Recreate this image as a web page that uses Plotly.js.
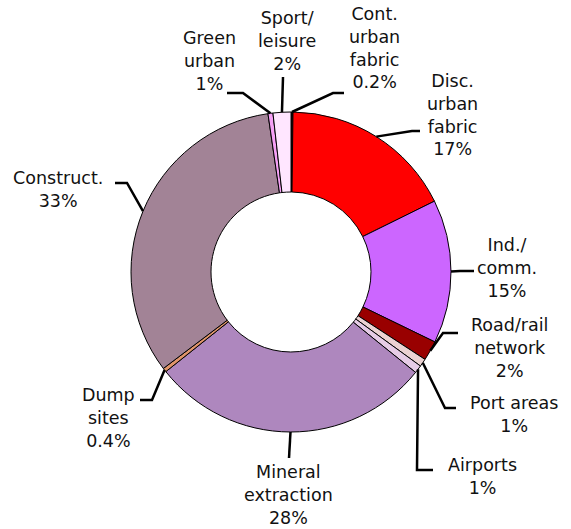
<!DOCTYPE html>
<html>
<head>
<meta charset="utf-8">
<script src="https://cdn.plot.ly/plotly-3.0.1.min.js"></script>
<style>html,body{margin:0;padding:0;background:#fff;}#chart{width:571px;height:529px;}</style>
</head>
<body>
<div id="chart"></div>
<script>
// ---- data ----
var categories = ["Cont. urban fabric","Disc. urban fabric","Ind./comm.","Road/rail network","Port areas","Airports","Mineral extraction","Dump sites","Construct.","Green urban","Sport/leisure"];
var shares = [0.2, 17.5, 14.5, 2, 0.8, 0.8, 28.5, 0.4, 33, 0.5, 1.8];
var labelTexts = ["Cont.<br>urban<br>fabric<br>0.2%","Disc.<br>urban<br>fabric<br>17%","Ind./<br>comm.<br>15%","Road/rail<br>network<br>2%","Port areas<br>1%","Airports<br>1%","Mineral<br>extraction<br>28%","Dump<br>sites<br>0.4%","Construct.<br>33%","Green<br>urban<br>1%","Sport/<br>leisure<br>2%"];
var colors = ["#200000","#FF0000","#CC66FF","#990000","#EBD2D2","#E6CCE6","#AE87BE","#E0956A","#A28396","#F5A0F5","#FFE6FF"];

// ---- layout config (pixels) ----
var W = 571, H = 529, CX = 291, CY = 272, R = 160;
// label centres and leader elbows / ends
var labelPos = [[374,48],[452,115],[507,268],[509,348],[514,414],[482,476],[288,495],[108,418],[58,189],[209,61],[287,41]];
var elbows = [[333,93],[412,131],[460,271],[443,333],[445,408],[417,470],[289,458],[152,400],[127,183],[243,93],[283,77]];
var ends   = [[344,93],[420,131],[474,271],[458,333],[456,408],[433,470],[289,458],[140,400],[115,183],[227,93],[283,77]];

function px(x){return x/W;}
function py(y){return 1 - y/H;}

var total = shares.reduce(function(a,b){return a+b;},0);
var cum = 0;
var shapes = [], annotations = [];
for (var i=0;i<shares.length;i++){
  var mid = (cum + shares[i]/2)/total*2*Math.PI;
  cum += shares[i];
  var ax = CX + R*Math.sin(mid), ay = CY - R*Math.cos(mid);
  var e = elbows[i], f = ends[i];
  shapes.push({type:'path', xref:'paper', yref:'paper',
    path:'M '+px(ax)+' '+py(ay)+' L '+px(e[0])+' '+py(e[1])+' L '+px(f[0])+' '+py(f[1]),
    line:{color:'#000', width:2.5}});
  annotations.push({xref:'paper', yref:'paper', x:px(labelPos[i][0]), y:py(labelPos[i][1]),
    xanchor:'center', yanchor:'middle', showarrow:false, text:labelTexts[i], align:'center',
    font:{family:'DejaVu Sans, Verdana, sans-serif', size:17.5, color:'#111'}});
}

var trace = {
  type:'pie', labels:categories, values:shares, hole:0.5, sort:false,
  direction:'clockwise', rotation:0, textinfo:'none', hoverinfo:'label+percent',
  marker:{colors:colors, line:{color:'#000', width:1}},
  domain:{x:[(CX-R)/W,(CX+R)/W], y:[1-(CY+R)/H, 1-(CY-R)/H]},
  showlegend:false
};

Plotly.newPlot('chart',[trace],{
  width:W, height:H, margin:{l:0,r:0,t:0,b:0},
  paper_bgcolor:'#fff', plot_bgcolor:'#fff',
  showlegend:false, shapes:shapes, annotations:annotations
},{displayModeBar:false, staticPlot:true});
</script>
</body>
</html>
